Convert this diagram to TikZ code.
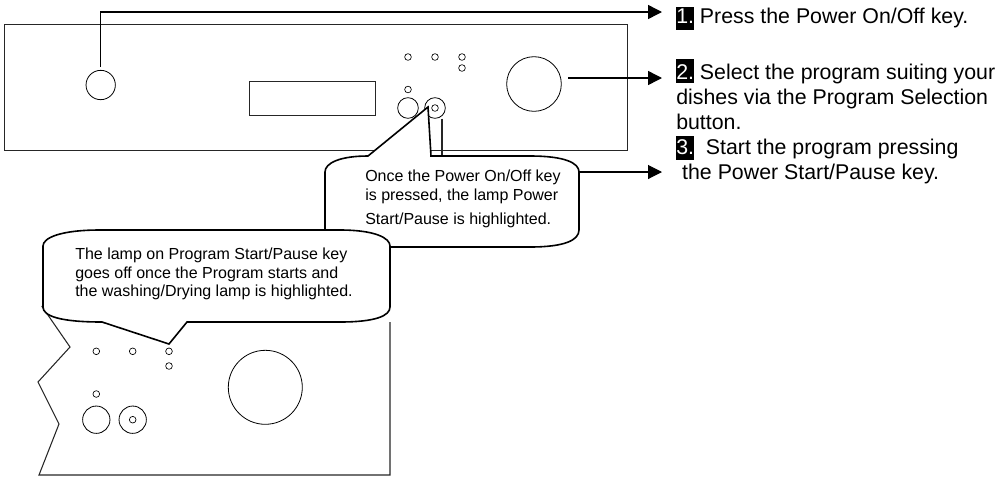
\documentclass[tikz,border=0pt]{standalone}
\usepackage{fontspec}
\setmainfont{Liberation Sans}
\usetikzlibrary{arrows.meta, positioning, calc}

\newcommand{\stepnum}[3]{{\fboxsep=0pt\colorbox{black}{\rule[-#1]{0pt}{#2}\textcolor{white}{#3}}}}

\begin{document}
\begin{tikzpicture}[x=0.75pt, y=-0.75pt, >={Triangle[length=10.5pt, width=10.5pt]},
    panel/.style={draw=black!85, line width=0.6pt},
    led/.style={circle, draw, line width=0.5pt, inner sep=0pt, minimum size=5pt},
    key/.style={circle, draw, line width=0.6pt, inner sep=0pt, minimum size=#1},
    pointer/.style={->, line width=1.1pt},
    bubble/.style={draw, fill=white, line width=1.2pt},
    steptext/.style={anchor=north west, inner sep=0pt, align=left,
        font=\fontsize{16}{18.75}\selectfont},
    bubbletext/.style={anchor=north west, inner sep=0pt, align=left,
        font=\fontsize{12}{13.8}\selectfont}]

  \useasboundingbox (0,0) rectangle (1007,476);

  % main panel
  \draw[panel] (4,24) rectangle (627,150);
  \node[draw=black!85, line width=0.6pt, inner sep=0pt, minimum width=94.5pt, minimum height=25pt]
        (display) at (312,98.5) {};
  \node[key=22pt] (powerkey) at (100.7,85) {};
  \node[key=41pt] (dial) at (534,84) {};
  \node[key=15.5pt] (leftkey) at (408,108) {};
  \node[key=15.5pt] (startkey) at (435,108) {};
  \node[led] (startlamp) at (435,108) {};
  \node[led] (ledone) at (408,57) {};
  \node[led] (ledtwo) at (435,57) {};
  \node[led] (ledthree) at (462,57) {};
  \node[led] (ledfour) at (462,68) {};
  \node[led] (ledfive) at (408,89.5) {};

  % steps
  \coordinate (tipone) at (662,12);
  \coordinate (tiptwo) at (662,78);
  \coordinate (tipthree) at (662,172);
  \node[steptext] (stepone) at (676,7) {\stepnum{5pt}{17pt}{1.} Press the Power On/Off key.};
  \node[steptext] (steptwo) at (676,59) {\stepnum{3pt}{18pt}{2.} Select the program suiting your\\
        dishes via the Program Selection\\ button.};
  \node[steptext] (stepthree) at (676,136) {\stepnum{4.5pt}{18pt}{3.}\ \ Start the program pressing\\
        \ the Power Start/Pause key.};

  % first bubble
  \draw[panel, line width=0.9pt] (startkey.south -| 442,0) -- (442,156);
  \draw[bubble] (startlamp.west -| 428,0) ++(0,-1) -- (431,156) -- (530,156)
        .. controls (565,156) and (579,163) .. (579,172) -- (579,230)
        .. controls (579,240) and (565,247) .. (530,247) -- (360,247)
        .. controls (340,247) and (325,240) .. (325,230) -- (325,172)
        .. controls (325,163) and (340,156) .. (368,156) -- cycle;
  \coordinate (bubbleright) at (579,172);
  \node[bubbletext] (bubbleone) at (365,170) {Once the Power On/Off key\\ is pressed, the lamp Power\\[4.5pt]
        Start/Pause is highlighted.};

  % lower panel
  \draw[panel, line width=0.8pt] (41.7,306) -- (70,347) -- (38,382) -- (59,424) -- (39,475)
        -- (390,475) -- (390,322);
  \node[key=41pt, minimum size=55.5pt] (lowerdial) at (265.3,387.3) {};
  \node[key=20.5pt] (lowerleft) at (96.3,419.7) {};
  \node[key=20.5pt] (lowerstart) at (132.7,419.7) {};
  \node[led] (lowerlamp) at (132.7,419.7) {};
  \node[led] (lowerone) at (96.3,351.3) {};
  \node[led] (lowertwo) at (132.7,351.3) {};
  \node[led] (lowerthree) at (169,351.3) {};
  \node[led] (lowerfour) at (169,366) {};
  \node[led] (lowerfive) at (96.3,394) {};

  % second bubble
  \draw[bubble] (169,344) -- (187,322) -- (340,322)
        .. controls (375,322) and (390,316) .. (390,307) -- (390,246)
        .. controls (390,238) and (375,230) .. (340,230) -- (100,230)
        .. controls (60,230) and (43,238) .. (43,246) -- (43,307)
        .. controls (43,316) and (60,322) .. (102,322) -- cycle;
  \node[bubbletext] (bubbletwo) at (75,248) {The lamp on Program Start/Pause key\\
        goes off once the Program starts and\\ the washing/Drying lamp is highlighted.};

  \draw[pointer, shorten <=2.5pt] (powerkey.north) |- (tipone);
  \draw[pointer, shorten <=5pt] (dial.east |- tiptwo) -- (tiptwo);
  \draw[pointer, line width=0.8pt] (bubbleright) -- (tipthree);
\end{tikzpicture}
\end{document}
